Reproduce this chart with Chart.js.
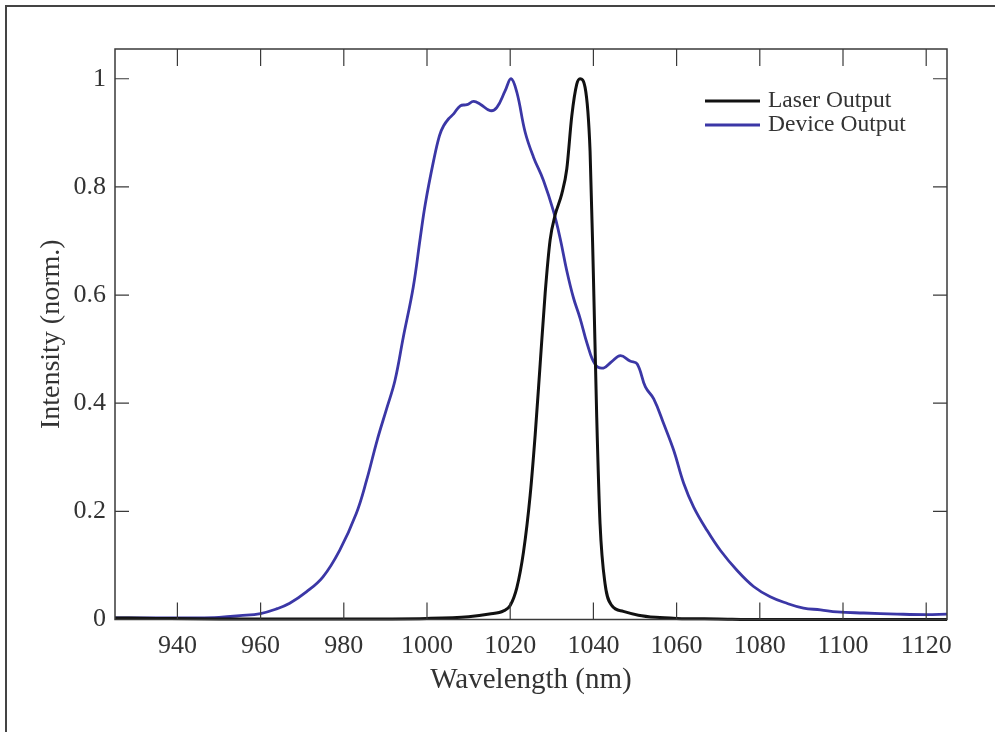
<!DOCTYPE html>
<html>
<head>
<meta charset="utf-8">
<script src="https://cdn.jsdelivr.net/npm/chart.js@4.4.1/dist/chart.umd.min.js"></script>
<style>
  html, body { margin: 0; padding: 0; background: #fff; }
  #wrap { position: relative; width: 995px; height: 732px; }
</style>
</head>
<body>
<div id="wrap"><canvas id="spectrum"></canvas></div>
<script>
  "use strict";

  // Laser spectrum (black)
  const laserNm = [925, 935, 950, 980, 1000, 1010, 1015, 1018.4, 1020, 1021.6, 1023.2, 1024.8, 1026, 1027.2,
    1028.4, 1029.6, 1030.8, 1032.4, 1033.6, 1034.8, 1036, 1036.8, 1038, 1039.2, 1040, 1040.8, 1041.6, 1042.8,
    1044.4, 1047.2, 1050.8, 1055, 1060, 1070, 1080, 1100, 1125];
  const laserVal = [0.003, 0.002, 0.001, 0.001, 0.002, 0.005, 0.010, 0.016, 0.026, 0.059, 0.125, 0.23, 0.341, 0.472,
    0.603, 0.702, 0.748, 0.787, 0.833, 0.931, 0.99, 1.0, 0.984, 0.866, 0.636, 0.374, 0.177, 0.066,
    0.026, 0.015, 0.008, 0.004, 0.002, 0.001, 0, 0, 0];

  // Device spectrum (blue)
  const deviceNm = [925, 935, 945, 950, 955, 960, 964, 967, 971, 975, 979, 983, 985.5, 988, 990.3, 992.3, 994.3,
    996.7, 998.4, 999.6, 1001.6, 1003, 1004, 1005.2, 1006.4, 1008, 1009.6, 1011.2, 1012.8, 1015.2, 1016.8,
    1018.8, 1020.2, 1021.6, 1023.6, 1025.6, 1028, 1030.4, 1032, 1033.6, 1035.2, 1036.8, 1038.5, 1040.4, 1042.4,
    1044.4, 1046.5, 1048.8, 1050.5, 1052.5, 1054.5, 1056.9, 1059.3, 1061.7, 1064.1, 1067.3, 1070.5, 1074.5,
    1078.5, 1082.5, 1086.5, 1090.5, 1094.6, 1098.6, 1105, 1113, 1120, 1125];
  const deviceVal = [0.003, 0.003, 0.003, 0.004, 0.007, 0.011, 0.02, 0.030, 0.051, 0.079, 0.128, 0.196, 0.258,
    0.331, 0.39, 0.442, 0.522, 0.615, 0.707, 0.769, 0.849, 0.895, 0.913, 0.926, 0.935, 0.950, 0.952, 0.958, 0.953,
    0.941, 0.947, 0.978, 1.0, 0.975, 0.901, 0.855, 0.812, 0.755, 0.705, 0.645, 0.595, 0.557, 0.51, 0.472, 0.465,
    0.477, 0.488, 0.478, 0.473, 0.430, 0.408, 0.362, 0.313, 0.252, 0.208, 0.165, 0.128, 0.091,
    0.061, 0.042, 0.030, 0.021, 0.018, 0.014, 0.012, 0.010, 0.009, 0.010];

  const seriesLabels = ["Laser Output", "Device Output"];
  const xTicks = [940, 960, 980, 1000, 1020, 1040, 1060, 1080, 1100, 1120];
  const yTicks = [0, 0.2, 0.4, 0.6, 0.8, 1];

  const SERIF = "'Liberation Serif', 'DejaVu Serif', serif";
  const TEXT = "#333333";
  const LASER = "#111111";
  const DEVICE = "#3b37a6";

  const toPoints = (xs, ys) => xs.map((x, i) => ({x: x, y: ys[i]}));

  // inward ticks, plot frame, outer figure frame, in-plot legend
  const framePlugin = {
    id: "frame",
    afterDraw(chart) {
      const ctx = chart.ctx;
      const a = chart.chartArea;
      const xs = chart.scales.x;
      const ys = chart.scales.y;
      ctx.save();
      ctx.strokeStyle = "#3a3a3a";
      ctx.lineWidth = 1.5;
      ctx.strokeRect(a.left, a.top, a.right - a.left, a.bottom - a.top);
      ctx.lineWidth = 1.2;
      ctx.beginPath();
      xs.ticks.forEach((t) => {
        const px = xs.getPixelForValue(t.value);
        ctx.moveTo(px, a.bottom);
        ctx.lineTo(px, a.bottom - 17);
        ctx.moveTo(px, a.top);
        ctx.lineTo(px, a.top + 17);
      });
      ys.ticks.forEach((t) => {
        const py = ys.getPixelForValue(t.value);
        ctx.moveTo(a.left, py);
        ctx.lineTo(a.left + 14, py);
        ctx.moveTo(a.right, py);
        ctx.lineTo(a.right - 14, py);
      });
      ctx.stroke();

      // outer frame of the figure
      ctx.strokeStyle = "#444";
      ctx.lineWidth = 2;
      ctx.beginPath();
      ctx.moveTo(6, chart.height);
      ctx.lineTo(6, 6);
      ctx.lineTo(chart.width, 6);
      ctx.stroke();

      // legend
      ctx.font = "23.5px " + SERIF;
      ctx.textBaseline = "middle";
      ctx.textAlign = "left";
      chart.data.datasets.forEach((ds, i) => {
        const y = 101 + i * 24;
        ctx.strokeStyle = ds.borderColor;
        ctx.lineWidth = 3;
        ctx.beginPath();
        ctx.moveTo(705, y);
        ctx.lineTo(760, y);
        ctx.stroke();
        ctx.fillStyle = TEXT;
        ctx.fillText(ds.label, 768, y);
      });
      ctx.restore();
    },
  };

  function renderSpectrum() {
    const el = document.getElementById("spectrum");
    if (!el || typeof Chart === "undefined") {
      console.error("Chart.js no cargado");
      return;
    }
    new Chart(el.getContext("2d"), {
      type: "line",
      data: {
        datasets: [
          {
            label: seriesLabels[0],
            data: toPoints(laserNm, laserVal),
            borderColor: LASER,
            borderWidth: 3,
            pointRadius: 0,
            cubicInterpolationMode: "monotone",
            clip: false,
          },
          {
            label: seriesLabels[1],
            data: toPoints(deviceNm, deviceVal),
            borderColor: DEVICE,
            borderWidth: 2.8,
            pointRadius: 0,
            tension: 0.4,
            clip: false,
          },
        ],
      },
      options: {
        responsive: true,
        maintainAspectRatio: false,
        animation: false,
        layout: {padding: {left: 0, top: 49, right: 48, bottom: 0}},
        plugins: {legend: {display: false}, tooltip: {enabled: false}},
        scales: {
          x: {
            type: "linear",
            min: 925,
            max: 1125,
            afterBuildTicks: (s) => {
              s.ticks = xTicks.map((v) => ({value: v}));
            },
            afterFit: (s) => {
              s.height = 112.5;
            },
            grid: {display: false, drawTicks: false},
            border: {display: false},
            ticks: {
              padding: 11,
              maxRotation: 0,
              color: TEXT,
              font: {family: SERIF, size: 26},
              callback: (v) => String(v),
            },
            title: {
              display: true,
              text: "Wavelength (nm)",
              color: TEXT,
              font: {family: SERIF, size: 29},
              padding: {top: 0, bottom: 34},
            },
          },
          y: {
            type: "linear",
            min: 0,
            max: 1.055,
            afterBuildTicks: (s) => {
              s.ticks = yTicks.map((v) => ({value: v}));
            },
            afterFit: (s) => {
              s.width = 115;
            },
            grid: {display: false, drawTicks: false},
            border: {display: false},
            ticks: {
              padding: 9,
              color: TEXT,
              font: {family: SERIF, size: 26},
              callback: (v) => (v === 0 || v === 1 ? String(v) : v.toFixed(1)),
            },
            title: {
              display: true,
              text: "Intensity (norm.)",
              color: TEXT,
              font: {family: SERIF, size: 28},
              padding: {top: 35, bottom: 0},
            },
          },
        },
      },
      plugins: [framePlugin],
    });
  }

  document.addEventListener("DOMContentLoaded", () => {
    renderSpectrum();
  });
</script>
</body>
</html>
